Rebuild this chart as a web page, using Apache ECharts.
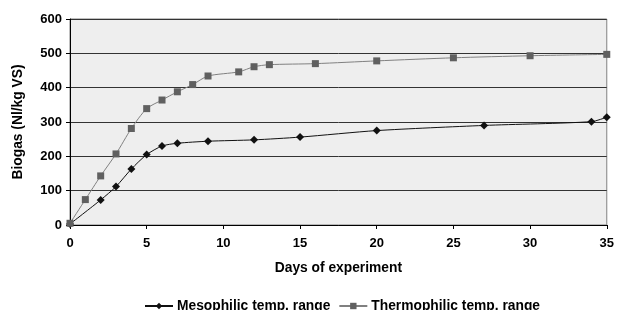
<!DOCTYPE html>
<html><head><meta charset="utf-8">
<script src="https://cdn.jsdelivr.net/npm/echarts@6/dist/echarts.min.js"></script>
<style>html,body{margin:0;padding:0;background:#fff}#c{width:617px;height:310px}</style>
</head><body><div id="c"></div>
<script>
const mesoDays = [0, 2, 3, 4, 5, 6, 7, 9, 12, 15, 20, 27, 34, 35];
const mesoValues = [3, 73, 112, 163, 205, 230, 238, 244, 248, 256, 275, 290, 301, 314];
const thermoDays = [0, 1, 2, 3, 4, 5, 6, 7, 8, 9, 11, 12, 13, 16, 20, 25, 30, 35];
const thermoValues = [5, 74, 143, 207, 281, 339, 364, 388, 409, 434, 446, 461, 467, 470, 478, 487, 493, 497];
const seriesNames = ['Mesophilic temp. range', 'Thermophilic temp. range'];

const font = {fontFamily: 'Liberation Sans, Arial, sans-serif', fontWeight: 'bold', fontSize: 13, color: '#000'};
const bigFont = Object.assign({}, font, {fontSize: 13.8});
const chart = echarts.init(document.getElementById('c'));
chart.setOption({
  animation: false,
  grid: {left: 70, right: 7, top: 19, bottom: 85, show: true, backgroundColor: '#eeeeee', borderColor: '#808080', borderWidth: 1},
  legend: {
    top: 299, left: 144, padding: 0, itemWidth: 28, itemHeight: 8, itemGap: 8,
    textStyle: Object.assign({padding: [0, 0, 0, -1]}, bigFont),
    data: seriesNames
  },
  xAxis: {
    type: 'value', min: 0, max: 35, interval: 5,
    name: 'Days of experiment', nameLocation: 'middle', nameGap: 36, nameTextStyle: bigFont,
    axisLine: {lineStyle: {color: '#000', width: 1}},
    axisTick: {show: true, length: 4, lineStyle: {color: '#000'}},
    axisLabel: Object.assign({margin: 12}, font),
    splitLine: {show: false}
  },
  yAxis: {
    type: 'value', min: 0, max: 600, interval: 100,
    name: 'Biogas (Nl/kg VS)', nameLocation: 'middle', nameGap: 45, nameTextStyle: bigFont,
    axisLine: {show: true, lineStyle: {color: '#000', width: 1}},
    axisTick: {show: true, length: 4, lineStyle: {color: '#000'}},
    axisLabel: Object.assign({margin: 8}, font),
    splitLine: {show: true, lineStyle: {color: '#333', width: 1}}
  },
  series: [
    {
      name: seriesNames[0], type: 'line', smooth: 0.25,
      data: mesoDays.map((d, i) => [d, mesoValues[i]]),
      symbol: 'diamond', symbolSize: 8,
      lineStyle: {color: '#111', width: 1},
      itemStyle: {color: '#111'}
    },
    {
      name: seriesNames[1], type: 'line', smooth: 0.25,
      data: thermoDays.map((d, i) => [d, thermoValues[i]]),
      symbol: 'rect', symbolSize: 7,
      lineStyle: {color: '#808080', width: 1},
      itemStyle: {color: '#606060'}
    }
  ]
});
</script></body></html>
